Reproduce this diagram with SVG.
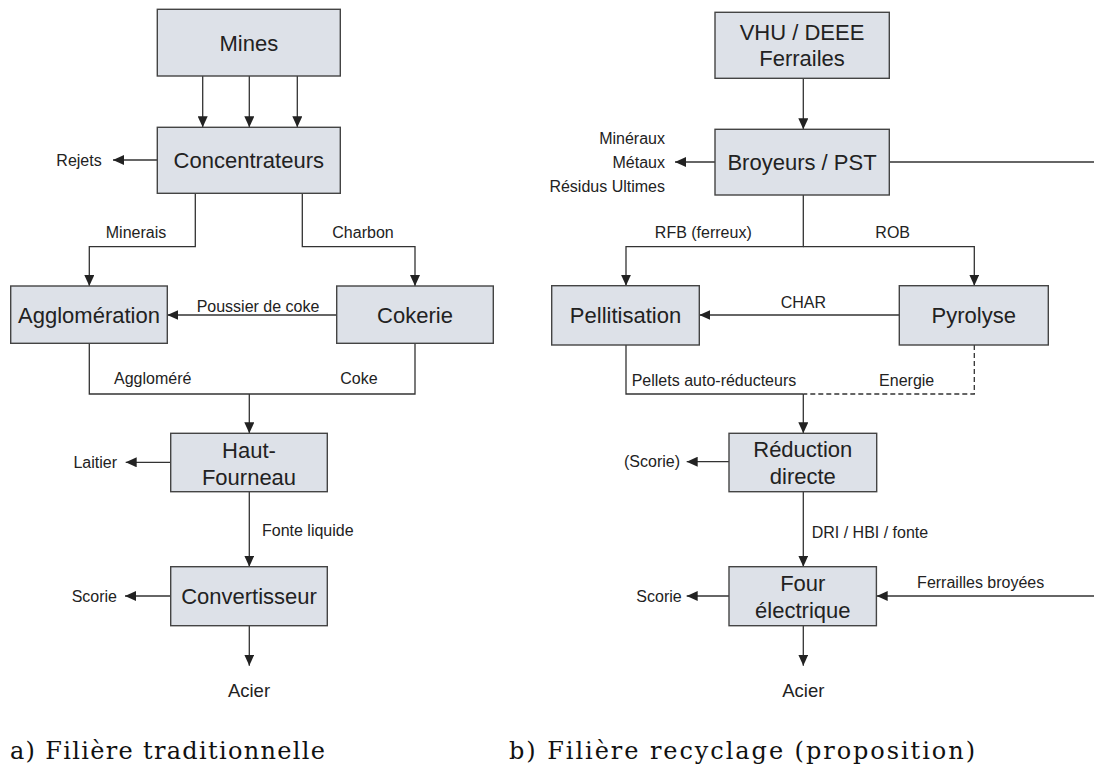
<svg xmlns="http://www.w3.org/2000/svg" width="1094" height="775" viewBox="0 0 1094 775">
<defs>
<marker id="ah" markerUnits="userSpaceOnUse" markerWidth="12" markerHeight="10" refX="11" refY="5" orient="auto">
<path d="M0,0 L11,5 L0,10 z" fill="#222"/>
</marker>
<style>
.box{fill:#dde1e8;stroke:#444;stroke-width:1.4}
.bt{font-family:"Liberation Sans",Arial,sans-serif;font-size:22px;fill:#222;text-anchor:middle}
.lb{font-family:"Liberation Sans",Arial,sans-serif;font-size:16px;fill:#222}
.ac{font-family:"Liberation Sans",Arial,sans-serif;font-size:18.5px;fill:#222;text-anchor:middle}
.c{fill:none;stroke:#333;stroke-width:1.3}
.a{marker-end:url(#ah)}
.d{stroke-dasharray:5,3}
.cap{font-family:"DejaVu Serif","Liberation Serif","Times New Roman",serif;font-size:24px;fill:#111}
</style>
</defs>
<rect width="1094" height="775" fill="#fff"/>
<g id="connectors">
<path class="c a" d="M202.7 76 V127.3"/>
<path class="c a" d="M249.3 76 V127.3"/>
<path class="c a" d="M297.3 76 V127.3"/>
<path class="c a" d="M157.3 160 H113"/>
<path class="c a" d="M195.3 193.3 V246.7 H89.3 V286"/>
<path class="c a" d="M302.3 193.3 V246.7 H415 V286"/>
<path class="c a" d="M336.7 315 H167.3"/>
<path class="c" d="M89.3 343.3 V394 H415 V343.3"/>
<path class="c a" d="M249.3 394 V433.3"/>
<path class="c a" d="M170.7 462.3 H125.7"/>
<path class="c a" d="M249.3 491.7 V566.7"/>
<path class="c a" d="M170.7 596 H125"/>
<path class="c a" d="M249.3 625.7 V665.7"/>
<path class="c a" d="M803.3 78.3 V129.3"/>
<path class="c a" d="M715 162 H675"/>
<path class="c" d="M889.3 162 H1094"/>
<path class="c a" d="M803.3 195 V246.7 H626 V285.7"/>
<path class="c a" d="M803.3 246.7 H974.3 V285.7"/>
<path class="c a" d="M899.3 315 H699.3"/>
<path class="c" d="M626 345 V394 H803.3"/>
<path class="c d" d="M974.3 345 V394 H803.3"/>
<path class="c a" d="M803.3 394 V433.3"/>
<path class="c a" d="M729 461.7 H686.7"/>
<path class="c a" d="M803.3 491.7 V566.7"/>
<path class="c a" d="M729 596 H686.7"/>
<path class="c a" d="M1094 596 H876.7"/>
<path class="c a" d="M803.3 625.7 V665.7"/>
</g>
<g id="edge-labels">
<text class="lb" x="101.7" y="166" text-anchor="end">Rejets</text>
<text class="lb" x="136" y="238" text-anchor="middle">Minerais</text>
<text class="lb" x="363" y="238" text-anchor="middle">Charbon</text>
<text class="lb" x="258" y="312" text-anchor="middle">Poussier de coke</text>
<text class="lb" x="152.7" y="384" text-anchor="middle">Aggloméré</text>
<text class="lb" x="359" y="384" text-anchor="middle">Coke</text>
<text class="lb" x="117" y="468" text-anchor="end">Laitier</text>
<text class="lb" x="262" y="536" >Fonte liquide</text>
<text class="lb" x="117" y="601.5" text-anchor="end">Scorie</text>
<text class="ac" x="249" y="697">Acier</text>
<text class="lb" x="665" y="143.5" text-anchor="end">Minéraux</text>
<text class="lb" x="665" y="167.5" text-anchor="end">Métaux</text>
<text class="lb" x="665" y="191.5" text-anchor="end">Résidus Ultimes</text>
<text class="lb" x="703.3" y="238" text-anchor="middle">RFB (ferreux)</text>
<text class="lb" x="892.7" y="238" text-anchor="middle">ROB</text>
<text class="lb" x="803.3" y="308" text-anchor="middle">CHAR</text>
<text class="lb" x="631.7" y="386">Pellets auto-réducteurs</text>
<text class="lb" x="906.7" y="386" text-anchor="middle">Energie</text>
<text class="lb" x="680" y="467" text-anchor="end">(Scorie)</text>
<text class="lb" x="811.7" y="538">DRI / HBI / fonte</text>
<text class="lb" x="681.7" y="601.5" text-anchor="end">Scorie</text>
<text class="lb" x="980.7" y="588" text-anchor="middle">Ferrailles broyées</text>
<text class="ac" x="803.3" y="697">Acier</text>
</g>
<g id="mines"><rect class="box" x="157.3" y="9.3" width="183" height="66.7"/><text class="bt" x="248.8" y="50.5">Mines</text></g>
<g id="concentrateurs"><rect class="box" x="157.3" y="127.3" width="183" height="66"/><text class="bt" x="248.8" y="168">Concentrateurs</text></g>
<g id="agglomeration"><rect class="box" x="10.7" y="286" width="156.6" height="57.3"/><text class="bt" x="89" y="323">Agglomération</text></g>
<g id="cokerie"><rect class="box" x="336.7" y="286" width="156.6" height="57.3"/><text class="bt" x="415" y="323">Cokerie</text></g>
<g id="haut-fourneau"><rect class="box" x="170.7" y="433.3" width="156.6" height="58.4"/><text class="bt" x="249" y="458">Haut-</text><text class="bt" x="249" y="485">Fourneau</text></g>
<g id="convertisseur"><rect class="box" x="170.7" y="566.7" width="156.6" height="59"/><text class="bt" x="249" y="604">Convertisseur</text></g>
<g id="vhu"><rect class="box" x="715" y="12.3" width="174.3" height="66"/><text class="bt" x="802" y="40">VHU / DEEE</text><text class="bt" x="802" y="66">Ferrailes</text></g>
<g id="broyeurs"><rect class="box" x="715" y="129.3" width="174.3" height="65.7"/><text class="bt" x="802" y="170">Broyeurs / PST</text></g>
<g id="pellitisation"><rect class="box" x="551.7" y="285.7" width="147.6" height="59.3"/><text class="bt" x="625.5" y="323">Pellitisation</text></g>
<g id="pyrolyse"><rect class="box" x="899.3" y="285.7" width="149" height="59.3"/><text class="bt" x="973.8" y="323">Pyrolyse</text></g>
<g id="reduction"><rect class="box" x="729" y="433.3" width="147.7" height="58.4"/><text class="bt" x="802.8" y="457">Réduction</text><text class="bt" x="802.8" y="484">directe</text></g>
<g id="four"><rect class="box" x="729" y="566.7" width="147.4" height="59"/><text class="bt" x="802.8" y="591">Four</text><text class="bt" x="802.8" y="618">électrique</text></g>
<g id="captions">
<text class="cap" x="10" y="759" textLength="315">a) Filière traditionnelle</text>
<text class="cap" x="509" y="759" textLength="466">b) Filière recyclage (proposition)</text>
</g>
</svg>
